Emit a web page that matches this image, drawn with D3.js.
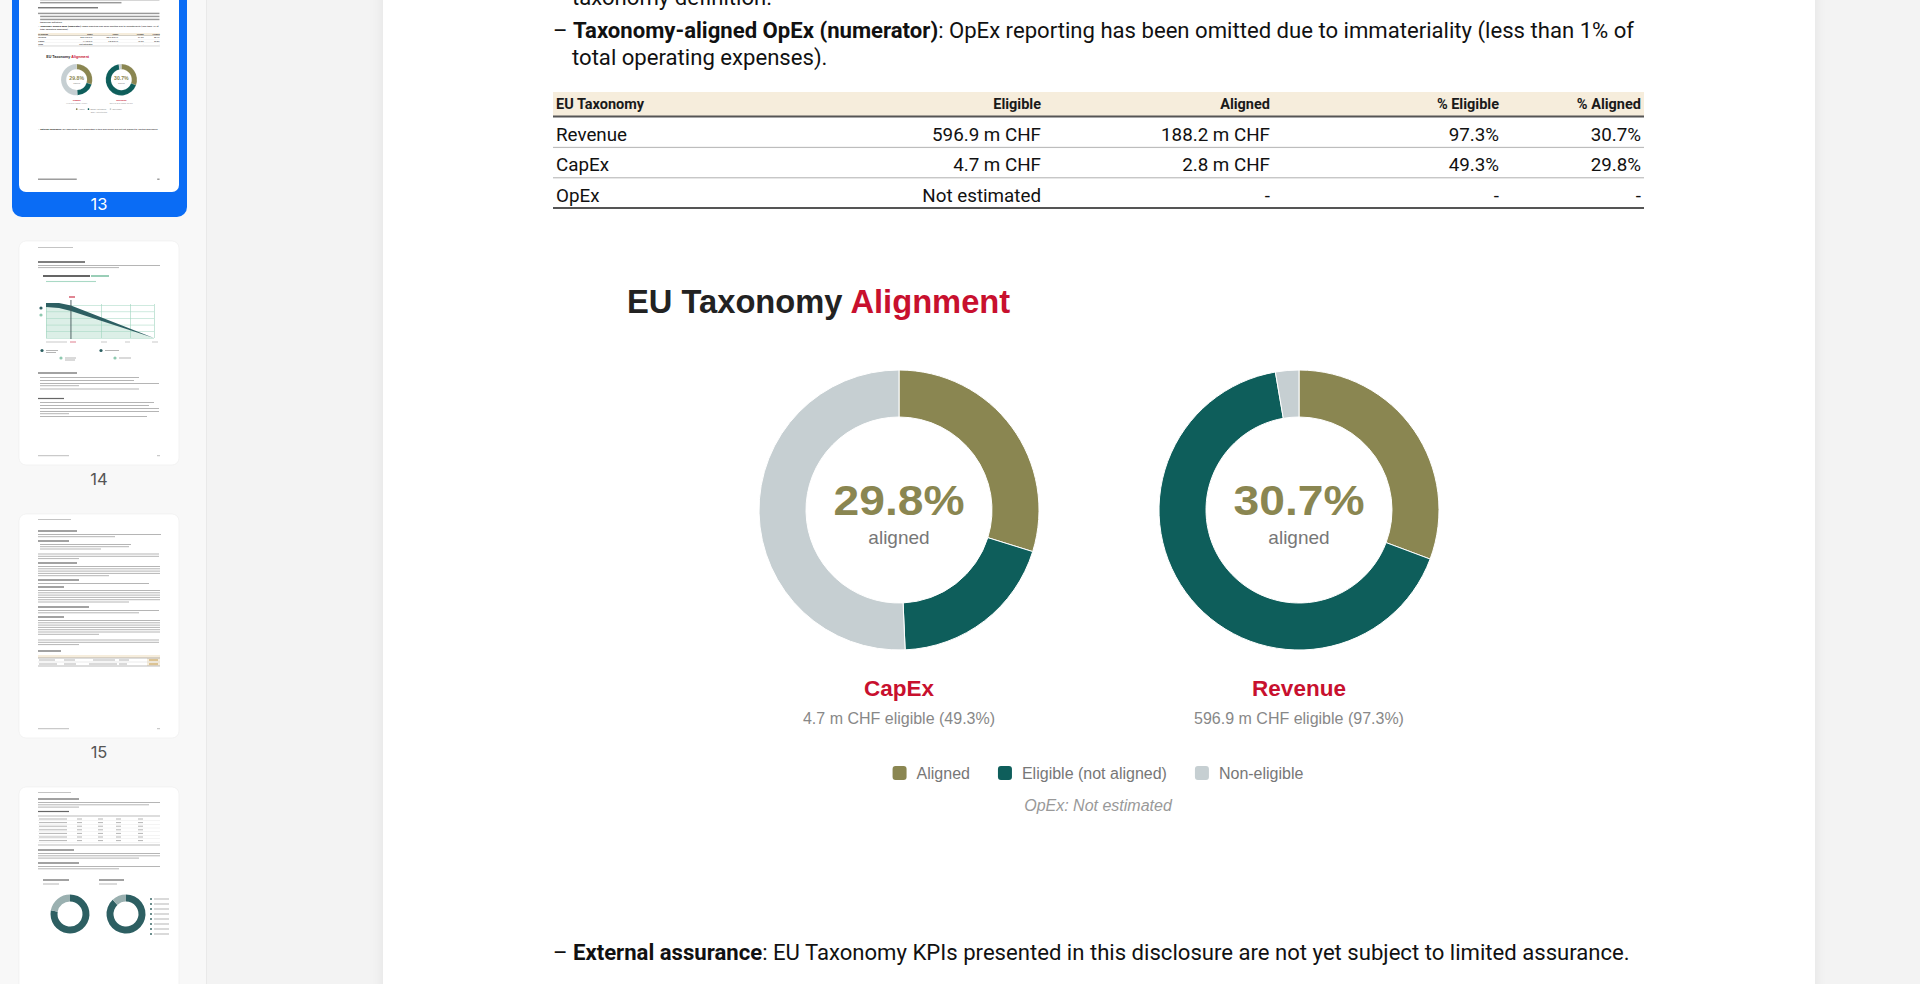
<!DOCTYPE html>
<html><head><meta charset="utf-8">
<script src="https://cdn.jsdelivr.net/npm/d3@7/dist/d3.min.js"></script>
<style>
html,body{margin:0;padding:0;overflow:hidden;background:#f3f3f3;}
svg{display:block;}
</style></head>
<body>
<svg id="c" width="1920" height="984"></svg>
<script>
// ---------------- DATA ----------------
const tableColumns = ["EU Taxonomy", "Eligible", "Aligned", "% Eligible", "% Aligned"];
const tableRows = ["Revenue", "CapEx", "OpEx"];
const tableEligible = ["596.9 m CHF", "4.7 m CHF", "Not estimated"];
const tableAligned = ["188.2 m CHF", "2.8 m CHF", "-"];
const tablePctEligible = ["97.3%", "49.3%", "-"];
const tablePctAligned = ["30.7%", "29.8%", "-"];

const donutNames = ["CapEx", "Revenue"];
const donutEligibleText = ["4.7 m CHF", "596.9 m CHF"];
const donutEligiblePct = [49.3, 97.3];
const donutAlignedPct = [29.8, 30.7];
const segmentNames = ["Aligned", "Eligible (not aligned)", "Non-eligible"];
const segmentColors = ["#8a8651", "#0e5e5b", "#c6cfd2"];
const pageNumbers = ["13", "14", "15", "16"];

const bodyLine0 = "taxonomy definition.";
const bodyLine1Bold = "Taxonomy-aligned OpEx (numerator)";
const bodyLine1Rest = ": OpEx reporting has been omitted due to immateriality (less than 1% of";
const bodyLine2 = "total operating expenses).";
const bodyLast1Bold = "External assurance";
const bodyLast1Rest = ": EU Taxonomy KPIs presented in this disclosure are not yet subject to limited assurance.";

// ---------------- SETUP ----------------
const W = 1920, H = 984;
const svg = d3.select("#c");
const defs = svg.append("defs");
const BODY = "Roboto, 'Noto Sans', sans-serif";
const CHART = "'Liberation Sans', Arial, Helvetica, sans-serif";

const sh = defs.append("filter").attr("id", "pshadow").attr("x", "-5%").attr("y", "-5%").attr("width", "110%").attr("height", "110%");
sh.append("feDropShadow").attr("dx", 0).attr("dy", 0).attr("stdDeviation", 6).attr("flood-color", "#000").attr("flood-opacity", 0.07);

// backgrounds
svg.append("rect").attr("width", W).attr("height", H).attr("fill", "#f3f3f3");
svg.append("rect").attr("width", 206).attr("height", H).attr("fill", "#f8f8f8");
svg.append("rect").attr("x", 206).attr("width", 1).attr("height", H).attr("fill", "#e9e9e9");

const PAGE_X = 383, PAGE_W = 1432, PAGE_TOP = -490, PAGE_H = 2000;
svg.append("rect").attr("x", PAGE_X).attr("y", PAGE_TOP).attr("width", PAGE_W).attr("height", PAGE_H)
  .attr("fill", "#fff").attr("filter", "url(#pshadow)");

// page content group (screen coordinates of main view)
const pc = svg.append("g").attr("id", "pagecontent");

// ---- off-screen page parts (visible only in the thumbnail) ----
const offLines = [
  [-200, 572, 1640, "#555"], [-173, 572, 1300, "#555"],
  [-128, 553, 1090, "#222"],
  [-77, 553, 1640, "#555"], [-50, 572, 1640, "#555"], [-23, 572, 1640, "#555"],
  [1407, 553, 900, "#555"], [1407, 1620, 1641, "#555"]
];
pc.selectAll("rect.off").data(offLines).join("rect").attr("class", "off")
  .attr("x", d => d[1]).attr("y", d => d[0] - 13).attr("width", d => d[2] - d[1]).attr("height", 13)
  .attr("fill", d => d[3]).attr("opacity", 0.6);

// ---- body text ----
const t0 = pc.append("text").attr("x", 572).attr("y", 5).attr("font-family", BODY).attr("fill", "#111").text(bodyLine0);
const t1 = pc.append("text").attr("x", 553).attr("y", 38).attr("font-family", BODY).attr("fill", "#111");
t1.append("tspan").text("– ");
t1.append("tspan").attr("font-weight", 700).text(bodyLine1Bold);
t1.append("tspan").text(bodyLine1Rest);
const t2 = pc.append("text").attr("x", 572).attr("y", 65).attr("font-family", BODY).attr("fill", "#111").text(bodyLine2);
const t3 = pc.append("text").attr("x", 553).attr("y", 960).attr("font-family", BODY).attr("fill", "#111");
t3.append("tspan").text("– ");
t3.append("tspan").attr("font-weight", 700).text(bodyLast1Bold);
t3.append("tspan").text(bodyLast1Rest);
[t0, t1, t2, t3].forEach(t => t.attr("font-size", 20));
const fs = 20 * 1082 / t1.node().getComputedTextLength();
[t0, t1, t2, t3].forEach(t => t.attr("font-size", fs));

// ---- table ----
const TL = 553, TR = 1644;
const colRight = d3.scaleOrdinal().domain(tableColumns).range([556, 1041, 1270, 1499, 1641]);
const rowY = d3.scaleBand().domain(tableRows).range([117, 208]);
pc.append("rect").attr("x", TL).attr("y", 92).attr("width", TR - TL).attr("height", 24).attr("fill", "#f6eddc");
pc.selectAll("text.th").data(tableColumns).join("text").attr("class", "th")
  .attr("x", d => colRight(d)).attr("y", 109)
  .attr("text-anchor", (d, i) => i === 0 ? "start" : "end")
  .attr("font-family", BODY).attr("font-weight", 700).attr("font-size", 14.5).attr("fill", "#1a1a1a")
  .text(d => d);
pc.append("rect").attr("x", TL).attr("y", 115.5).attr("width", TR - TL).attr("height", 2).attr("fill", "#555");
const rowData = tableRows.map((r, i) => [r, tableEligible[i], tableAligned[i], tablePctEligible[i], tablePctAligned[i]]);
const rg = pc.selectAll("g.row").data(rowData).join("g").attr("class", "row")
  .attr("transform", d => `translate(0,${rowY(d[0])})`);
rg.selectAll("text").data(d => d).join("text")
  .attr("x", (d, i) => colRight(tableColumns[i])).attr("y", 24)
  .attr("text-anchor", (d, i) => i === 0 ? "start" : "end")
  .attr("font-family", BODY).attr("font-size", 18.8).attr("fill", "#111")
  .text(d => d);
rg.filter((d, i) => i < tableRows.length - 1).append("rect")
  .attr("x", TL).attr("y", rowY.bandwidth() - 0.5).attr("width", TR - TL).attr("height", 1.2).attr("fill", "#bdbdbd");
pc.append("rect").attr("x", TL).attr("y", 207).attr("width", TR - TL).attr("height", 2).attr("fill", "#555");

// ---- chart title ----
const title = pc.append("text").attr("x", 627).attr("y", 313).attr("font-family", CHART)
  .attr("font-weight", 700).attr("font-size", 32.7);
title.append("tspan").attr("fill", "#222").text("EU Taxonomy ");
title.append("tspan").attr("fill", "#c8102e").text("Alignment");

// ---- donuts ----
const cx = d3.scalePoint().domain(donutNames).range([899, 1299]);
const CY = 510, R_OUT = 140, R_IN = 93;
const pie = d3.pie().sort(null).value(d => d.v);
const arc = d3.arc().innerRadius(R_IN).outerRadius(R_OUT);
const donutData = donutNames.map((n, i) => ({
  name: n,
  segs: [
    { k: segmentNames[0], v: donutAlignedPct[i], c: segmentColors[0] },
    { k: segmentNames[1], v: donutEligiblePct[i] - donutAlignedPct[i], c: segmentColors[1] },
    { k: segmentNames[2], v: 100 - donutEligiblePct[i], c: segmentColors[2] }
  ],
  aligned: donutAlignedPct[i], eligText: donutEligibleText[i], eligPct: donutEligiblePct[i]
}));
const dg = pc.selectAll("g.donut").data(donutData).join("g").attr("class", "donut")
  .attr("transform", d => `translate(${cx(d.name)},${CY})`);
dg.selectAll("path").data(d => pie(d.segs)).join("path")
  .attr("d", arc).attr("fill", d => d.data.c).attr("stroke", "#fff").attr("stroke-width", 1);
dg.append("text").attr("y", 5).attr("text-anchor", "middle")
  .attr("font-family", CHART).attr("font-weight", 700).attr("font-size", 43).attr("fill", segmentColors[0])
  .attr("textLength", 131).attr("lengthAdjust", "spacingAndGlyphs")
  .text(d => d.aligned.toFixed(1) + "%");
dg.append("text").attr("y", 34).attr("text-anchor", "middle")
  .attr("font-family", CHART).attr("font-size", 19).attr("fill", "#777").text("aligned");
dg.append("text").attr("y", 186).attr("text-anchor", "middle")
  .attr("font-family", CHART).attr("font-weight", 700).attr("font-size", 22.5).attr("fill", "#c8102e")
  .text(d => d.name);
dg.append("text").attr("y", 213.5).attr("text-anchor", "middle")
  .attr("font-family", CHART).attr("font-size", 16).attr("fill", "#888")
  .text(d => `${d.eligText} eligible (${d.eligPct.toFixed(1)}%)`);

// ---- legend ----
const LEG_CX = (cx(donutNames[0]) + cx(donutNames[1])) / 2 - 1, LEG_Y = 773;
const lg = pc.append("g");
const items = lg.selectAll("g").data(segmentNames).join("g");
items.append("rect").attr("width", 14).attr("height", 14).attr("rx", 3).attr("y", LEG_Y - 7)
  .attr("fill", (d, i) => segmentColors[i]);
items.append("text").attr("x", 24).attr("y", LEG_Y + 5.5).attr("font-family", CHART).attr("font-size", 16)
  .attr("fill", "#777").text(d => d);
const widths = [];
items.each(function () { widths.push(24 + this.querySelector("text").getComputedTextLength()); });
const total = d3.sum(widths) + 28 * (widths.length - 1);
items.attr("transform", (d, i) => `translate(${LEG_CX - total / 2 + d3.sum(widths.slice(0, i)) + 28 * i},0)`);
pc.append("text").attr("x", LEG_CX).attr("y", 811).attr("text-anchor", "middle")
  .attr("font-family", CHART).attr("font-style", "italic").attr("font-size", 16).attr("fill", "#999")
  .text("OpEx: Not estimated");

// ---------------- SIDEBAR THUMBNAILS ----------------
const TX = 19, TW = 160, THH = 224, TSTEP = 273, T0 = -32;
const S = TW / PAGE_W;
const side = svg.append("g");
side.append("rect").attr("x", 12).attr("y", -20).attr("width", 175).attr("height", 237).attr("rx", 10).attr("fill", "#0a6cf5");
const thumbs = pageNumbers.map((p, i) => ({ p, y: T0 + i * TSTEP, cur: i === 0 }));
thumbs.forEach((t, i) => {
  defs.append("clipPath").attr("id", "tc" + i).append("rect")
    .attr("x", TX).attr("y", t.y).attr("width", TW).attr("height", THH).attr("rx", 7);
  side.append("rect").attr("x", TX).attr("y", t.y).attr("width", TW).attr("height", THH).attr("rx", 7)
    .attr("fill", "#fff").attr("stroke", t.cur ? "none" : "#ececec").attr("stroke-width", 0.6);
  const ly = t.y + THH + (t.cur ? 18 : 20);
  if (ly < H - 10) {
    side.append("text").attr("x", 99).attr("y", ly).attr("text-anchor", "middle")
      .attr("font-family", "Inter, Roboto, sans-serif").attr("font-size", 16.5)
      .attr("fill", t.cur ? "#fff" : "#555").text(t.p);
  }
});
// thumbnail 13 = miniature of the page itself
side.append("g").attr("clip-path", "url(#tc0)").append("use").attr("href", "#pagecontent")
  .attr("transform", `translate(${TX - PAGE_X * S},${T0 - PAGE_TOP * S}) scale(${S})`);

function lines(g, specs) {
  g.selectAll(null).data(specs).join("rect")
    .attr("x", d => d[1]).attr("y", d => d[0] - (d[4] || 1) / 2)
    .attr("width", d => d[2] - d[1]).attr("height", d => d[4] || 1)
    .attr("fill", d => d[3] || "#b5b5b5");
}
// thumbnail 14
const g14 = side.append("g").attr("clip-path", "url(#tc1)").append("g").attr("transform", `translate(${TX},${thumbs[1].y})`);
lines(g14, [[6.5, 19, 54, "#c4c4c4"], [21, 19, 66, "#555", 1.5], [24.5, 19, 141], [26.6, 19, 100],
  [35, 24, 71, "#555", 1.8], [35, 72, 90, "#8fc9b0", 1.8], [40.5, 27, 77, "#a9d9c5", 1.1], [56, 50, 56, "#d0455a", 1.3]]);
g14.append("path").attr("d", "M27,64 L40,66 L52,69 L135,97 L27,97 Z").attr("fill", "#dcefe7");
g14.selectAll(null).data([64, 70.6, 77.2, 83.8, 90.4, 97]).join("rect").attr("x", 27).attr("y", d => d).attr("width", 108).attr("height", 0.5).attr("fill", "#9fd4be");
g14.selectAll(null).data([27, 82, 111, 135]).join("rect").attr("x", d => d).attr("y", 63).attr("width", 0.6).attr("height", 34).attr("fill", "#9fd4be");
g14.append("path").attr("d", "M27,62 L40,62 L52,64.5 L135,97 L52,70 L40,67 L27,66 Z").attr("fill", "#2d5f62");
g14.append("rect").attr("x", 51.5).attr("y", 59).attr("width", 0.9).attr("height", 39).attr("fill", "#44575a");
g14.selectAll(null).data([[22, 67, "#2d5f62"], [22, 74, "#8fc9b0"], [23, 109.5, "#2d5f62"], [82, 109.5, "#2d5f62"], [42, 117, "#8fc9b0"], [96, 117, "#8fc9b0"]])
  .join("circle").attr("cx", d => d[0]).attr("cy", d => d[1]).attr("r", 1.6).attr("fill", d => d[2]);
lines(g14, [[101, 27, 48, "#c9c9c9"], [101, 51, 57, "#e08090"], [101, 82, 88, "#c9c9c9"], [101, 106, 111, "#c9c9c9"], [101, 133, 139, "#c9c9c9"],
  [109.5, 27, 39], [111.5, 27, 37], [109.5, 86, 100], [117, 46, 57], [119, 46, 56], [117, 100, 112],
  [132, 19, 58, "#666", 1.2], [136.5, 21, 120], [139.5, 21, 115], [142.5, 21, 140], [144.7, 21, 60], [148, 21, 120],
  [157.5, 19, 45, "#666", 1.2], [161.5, 21, 135], [164.5, 21, 130], [167.5, 21, 140], [170.5, 21, 140], [172.7, 21, 50], [175.5, 21, 128],
  [214.7, 19, 50, "#bdbdbd"], [214.7, 138, 141, "#bdbdbd"]]);
// thumbnail 15
const g15 = side.append("g").attr("clip-path", "url(#tc2)").append("g").attr("transform", `translate(${TX},${thumbs[2].y})`);
lines(g15, [[5.5, 19, 52, "#c4c4c4"], [17, 19, 58, "#666", 1.2], [20.5, 19, 142], [22.7, 19, 96], [27, 19, 50, "#666", 1.2],
  [30.5, 21, 112], [32.7, 21, 110], [35, 21, 82], [40, 19, 140], [42.3, 19, 140], [44.6, 19, 60], [49, 19, 58, "#666", 1.2],
  [52.5, 19, 141], [54.8, 19, 141], [57.1, 19, 141], [59.4, 19, 141], [61.7, 19, 90], [66, 19, 60, "#666", 1.2],
  [69.5, 19, 130], [73, 19, 45, "#666", 1.2], [76.5, 19, 141], [78.8, 19, 141], [81.1, 19, 141], [83.4, 19, 141], [85.7, 19, 141], [88, 19, 110],
  [93, 19, 70, "#666", 1.2], [96.5, 19, 140], [98.8, 19, 120], [103, 19, 45, "#666", 1.2], [106.5, 19, 141], [108.8, 19, 141],
  [111.1, 19, 141], [113.4, 19, 141], [115.7, 19, 141], [118, 19, 141], [120.3, 19, 80], [126, 19, 140], [128.3, 19, 140], [130.6, 19, 60],
  [137, 19, 42, "#666", 1.2], [214.7, 19, 50, "#bdbdbd"], [214.7, 138, 141, "#bdbdbd"]]);
g15.append("rect").attr("x", 19).attr("y", 141).attr("width", 122).attr("height", 3).attr("fill", "#f6eddc");
g15.append("rect").attr("x", 128).attr("y", 144).attr("width", 13).attr("height", 8).attr("fill", "#f6eddc");
lines(g15, [[144, 19, 141, "#777", 0.5], [148, 19, 141, "#ccc", 0.4], [152, 19, 141, "#777", 0.5],
  [146, 20, 36], [146, 45, 56], [146, 74, 96], [146, 100, 110], [146, 130, 139, "#c29a4a"],
  [150, 20, 38], [150, 45, 57], [150, 70, 98], [150, 100, 108], [150, 130, 139, "#c29a4a"]]);
// thumbnail 16
const g16 = side.append("g").attr("clip-path", "url(#tc3)").append("g").attr("transform", `translate(${TX},${thumbs[3].y})`);
lines(g16, [[5.5, 19, 52, "#c4c4c4"], [12, 19, 60, "#666", 1.2], [15.5, 19, 141], [17.8, 19, 130], [20.1, 19, 60],
  [24.5, 19, 50, "#666", 1.2], [29, 19, 141, "#777", 0.5]]);
g16.selectAll(null).data(d3.range(7)).join("g").each(function (d) {
  const y = 32 + d * 3.6;
  lines(d3.select(this), [[y, 20, 48], [y, 58, 63], [y, 79, 84], [y, 97, 102], [y, 119, 124], [y + 1.8, 19, 141, "#e3e3e3", 0.4]]);
});
lines(g16, [[58, 19, 141, "#777", 0.5], [63, 19, 55, "#666", 1.2], [66.5, 19, 141], [68.8, 19, 141], [71.1, 19, 120],
  [76, 19, 60, "#666", 1.2], [79.5, 19, 141], [81.8, 19, 100], [93, 24, 50, "#666", 1.2], [93, 80, 105, "#666", 1.2],
  [97, 24, 40], [97, 80, 98]]);
const miniArc = d3.arc().innerRadius(12.5).outerRadius(19.5);
[[51, 127], [107, 127]].forEach((c, j) => {
  g16.append("g").attr("transform", `translate(${c[0]},${c[1]})`).selectAll("path")
    .data(pie([{ v: 0.78 + j * 0.1 }, { v: 0.22 - j * 0.1 }])).join("path")
    .attr("d", miniArc).attr("fill", (d, i) => i === 0 ? "#2d5f62" : "#9ab0b0");
});
g16.selectAll(null).data(d3.range(8)).join("g").each(function (d) {
  const y = 112 + d * 5;
  d3.select(this).append("rect").attr("x", 131).attr("y", y - 1).attr("width", 2).attr("height", 2).attr("fill", "#6d8f8f");
  lines(d3.select(this), [[y, 135, 150]]);
});
</script>
</body></html>
